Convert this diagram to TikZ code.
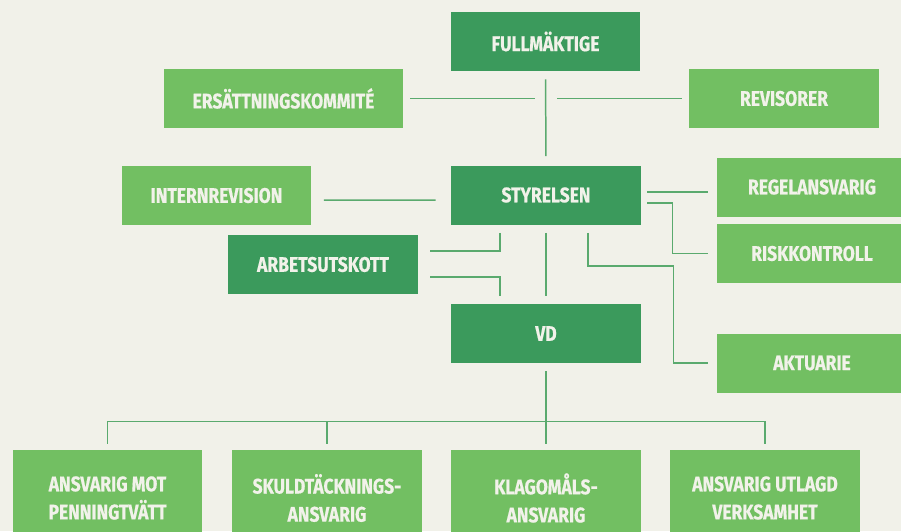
\documentclass[tikz,border=0pt]{standalone}
\usepackage{fontspec}
\newfontfamily\orgfont[FakeStretch=0.83,FakeBold=0.6]{Fira Sans}
\usetikzlibrary{calc}
\definecolor{bgpaper}{HTML}{F1F1E9}
\definecolor{darkgrn}{HTML}{3B9A5C}
\definecolor{lightgrn}{HTML}{72BF62}
\definecolor{linegrn}{HTML}{5AAA6E}
\definecolor{boxtext}{HTML}{F2F2EA}
\begin{document}
\begin{tikzpicture}[x=0.02cm,y=-0.02cm,
	box/.style={minimum width=3.8cm, minimum height=1.18cm, inner sep=0pt, text=boxtext, align=center, font=\orgfont\bfseries\fontsize{12}{16}\selectfont},
	dark/.style={box, fill=darkgrn},
	light/.style={box, fill=lightgrn},
	link/.style={draw=linegrn, line width=0.85pt}]
	\useasboundingbox (0,0) rectangle (901,531);
	\fill [bgpaper] (0,0) rectangle (901,531);
	\clip (0,0) rectangle (901,531);
	% top level
	\node [dark] (full) at (545.5,41.5) {FULLMÄKTIGE};
	\node [light, minimum width=4.78cm] (ers) at (283.5,98.5) {ERSÄTTNINGSKOMMITÉ};
	\node [light] (rev) at (784,98.5) {REVISORER};
	% board
	\node [light] (intern) at (216.5,195.5) {INTERNREVISION};
	\node [dark] (styr) at (546,195) {STYRELSEN};
	\node [light] (regel) at (812,187) {REGELANSVARIG};
	\node [light] (risk) at (812,253.5) {RISKKONTROLL};
	\node [dark] (arb) at (323,264.5) {ARBETSUTSKOTT};
	\node [light] (akt) at (812,363) {AKTUARIE};
	\node [dark] (vd) at (546,333.5) {VD};
	% bottom row
	\node [light, minimum height=1.92cm] (pen) at (107.5,498) {ANSVARIG MOT\\PENNINGTVÄTT};
	\node [light, minimum height=1.92cm] (skuld) at (327,498) {SKULDTÄCKNINGS-\\ANSVARIG};
	\node [light, minimum height=1.92cm] (klag) at (546,498) {KLAGOMÅLS-\\ANSVARIG};
	\node [light, minimum height=1.92cm] (utl) at (765,498) {ANSVARIG UTLAGD\\VERKSAMHET};
	% connectors
	\coordinate (hub) at (546,98.5);
	\draw [link, shorten <=0.16cm, shorten >=0.18cm] (full.south) -- (styr.north);
	\draw [link, shorten <=0.14cm, shorten >=0.22cm] (ers.east) -- (hub);
	\draw [link, shorten <=0.14cm, shorten >=0.22cm] (rev.west) -- (hub);
	\draw [link] ($(intern.east)+(12,4.5)$) -- ($(styr.west)+(-15,5)$);
	\draw [link] ($(styr.east)+(6,-3)$) -- ($(regel.west)+(-9,5)$);
	\draw [link] ($(styr.east)+(6,8)$) -| ($(risk.west)+(-44,0)$) -- ($(risk.west)+(-9,0)$);
	\draw [link] ($(styr.south)+(42,8)$) -- ++(0,33) -| ($(akt.west)+(-43,0)$) -- ($(akt.west)+(-9,0)$);
	\draw [link, shorten <=0.16cm, shorten >=0.16cm] (styr.south) -- (vd.north);
	\draw [link] ($(styr.south)+(-46,8)$) |- ($(arb.east)+(12,-13.5)$);
	\draw [link] ($(arb.east)+(12,12.5)$) -| ($(vd.north)+(-46,-8)$);
	\coordinate (bus) at ($(vd.south)+(0,58)$);
	\draw [link, shorten <=0.16cm, shorten >=0.12cm] (vd.south) -- (klag.north);
	\foreach \b in {pen, skuld, utl}
		\draw [link] ($(\b.north)+(0,-6)$) |- (bus);
\end{tikzpicture}
\end{document}
